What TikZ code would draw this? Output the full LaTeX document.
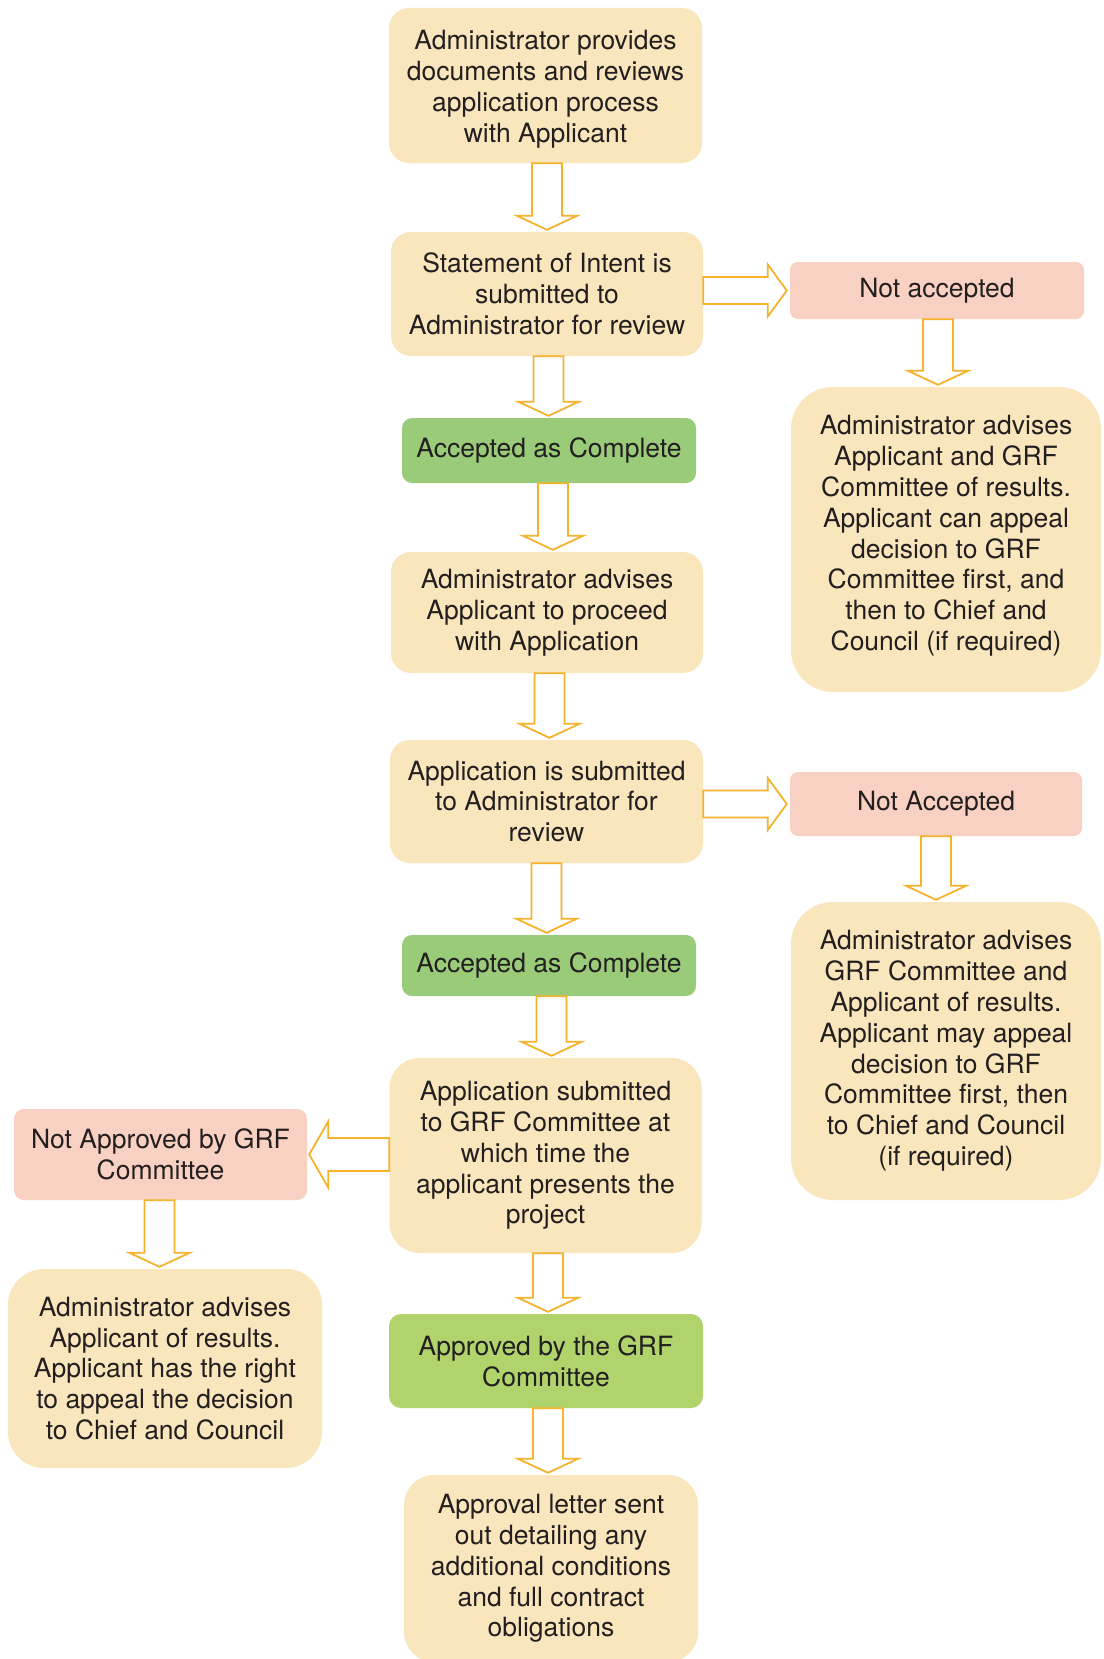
\documentclass[tikz,border=0pt]{standalone}
\usepackage{fontspec}
\setmainfont{TeX Gyre Heros}
\usetikzlibrary{calc}
\definecolor{beige}{HTML}{FAE6BC}
\definecolor{pinkbox}{HTML}{F8D1C2}
\definecolor{greenA}{HTML}{9ACB79}
\definecolor{greenB}{HTML}{B1D36B}
\definecolor{arrowc}{HTML}{F5B22D}
\definecolor{txt}{HTML}{231F20}
\tikzset{
  box/.style={rectangle, inner sep=0pt, align=center, text=txt,
    font=\fontsize{26.5}{30.8}\selectfont},
  beigebox/.style={box, fill=beige},
  pinkb/.style={box, fill=pinkbox},
  greena/.style={box, fill=greenA},
  greenb/.style={box, fill=greenB},
  blockarrow/.style={draw=arrowc, fill=white, line width=1.8pt, line join=miter},
}
% #1 source, #2 target, #3 x offset from source centre
\newcommand{\arrowdown}[3]{%
  \path[blockarrow] let \p1=(#1.south), \p2=(#2.north) in
    ({\x1+#3-15pt},{\y1}) -- ({\x1+#3+15pt},{\y1}) --
    ({\x1+#3+15pt},{\y2+16pt}) -- ({\x1+#3+30pt},{\y2+16pt}) --
    ({\x1+#3},{\y2+2pt}) -- ({\x1+#3-30pt},{\y2+16pt}) --
    ({\x1+#3-15pt},{\y2+16pt}) -- cycle;}
\newcommand{\arrowright}[2]{%
  \path[blockarrow] let \p1=(#1.east), \p2=(#2.west) in
    ({\x1},{\y2+13.5pt}) -- ({\x2-22pt},{\y2+13.5pt}) --
    ({\x2-22pt},{\y2+26pt}) -- ({\x2-3pt},{\y2}) --
    ({\x2-22pt},{\y2-26pt}) -- ({\x2-22pt},{\y2-13.5pt}) --
    ({\x1},{\y2-13.5pt}) -- cycle;}
\newcommand{\arrowleft}[2]{%
  \path[blockarrow] let \p1=(#1.west), \p2=(#2.east) in
    ({\x1},{\y2+16.5pt}) -- ({\x2+21pt},{\y2+16.5pt}) --
    ({\x2+21pt},{\y2+33pt}) -- ({\x2+2pt},{\y2}) --
    ({\x2+21pt},{\y2-33pt}) -- ({\x2+21pt},{\y2-16.5pt}) --
    ({\x1},{\y2-16.5pt}) -- cycle;}
\begin{document}
\begin{tikzpicture}[x=1pt,y=-1pt]
\useasboundingbox (0,0) rectangle (1103,1659);
\fill[white] (0,0) rectangle (1103,1659);

\node[beigebox, minimum width=313pt, minimum height=155pt, rounded corners=20pt] (A) at (545.5,85.5)
  {Administrator provides\\documents and reviews\\application process\\with Applicant\\[-32.5pt]};
\node[beigebox, minimum width=312pt, minimum height=124pt, rounded corners=20pt] (B) at (547,294)
  {Statement of Intent is\\submitted to\\Administrator for review};
\node[pinkb, minimum width=294pt, minimum height=57pt, rounded corners=8pt] (NA1) at (937,290.5)
  {Not accepted};
\node[beigebox, minimum width=310pt, minimum height=305pt, rounded corners=42pt] (R1) at (946,539.5)
  {Administrator advises\\Applicant and GRF\\Committee of results.\\Applicant can appeal\\decision to GRF\\Committee first, and\\then to Chief and\\Council (if required)\\[-18pt]};
\node[greena, minimum width=294pt, minimum height=65pt, rounded corners=10pt] (Acc1) at (549,450.5)
  {Accepted as Complete};
\node[beigebox, minimum width=312pt, minimum height=121pt, rounded corners=20pt] (C) at (547,612.5)
  {Administrator advises\\Applicant to proceed\\with Application};
\node[beigebox, minimum width=313pt, minimum height=123pt, rounded corners=20pt] (D) at (546.5,801.5)
  {Application is submitted\\to Administrator for\\review};
\node[pinkb, minimum width=292pt, minimum height=64pt, rounded corners=8pt] (NA2) at (936,804)
  {Not Accepted};
\node[beigebox, minimum width=310pt, minimum height=298pt, rounded corners=42pt] (R2) at (946,1051)
  {Administrator advises\\GRF Committee and\\Applicant of results.\\Applicant may appeal\\decision to GRF\\Committee first, then\\to Chief and Council\\(if required)};
\node[greena, minimum width=294pt, minimum height=61pt, rounded corners=10pt] (Acc2) at (549,965.5)
  {Accepted as Complete};
\node[beigebox, minimum width=312pt, minimum height=195pt, rounded corners=30pt] (E) at (545.5,1155.5)
  {Application submitted\\to GRF Committee at\\which time the\\applicant presents the\\project};
\node[pinkb, minimum width=293pt, minimum height=91pt, rounded corners=10pt] (NG) at (160.5,1154.5)
  {Not Approved by GRF\\Committee};
\node[beigebox, minimum width=314pt, minimum height=199pt, rounded corners=36pt] (L) at (165,1368.5)
  {Administrator advises\\Applicant of results.\\Applicant has the right\\to appeal the decision\\to Chief and Council};
\node[greenb, minimum width=314pt, minimum height=94pt, rounded corners=12pt] (AP) at (546,1361)
  {Approved by the GRF\\Committee};
\node[beigebox, minimum width=294pt, minimum height=187pt, rounded corners=30pt] (F) at (551,1568.5)
  {Approval letter sent\\out detailing any\\additional conditions\\and full contract\\obligations};

\arrowdown{A}{B}{1.5pt}
\arrowdown{B}{Acc1}{1.5pt}
\arrowdown{Acc1}{C}{4pt}
\arrowdown{C}{D}{2.5pt}
\arrowdown{D}{Acc2}{0pt}
\arrowdown{Acc2}{E}{2.5pt}
\arrowdown{E}{AP}{2.5pt}
\arrowdown{AP}{F}{2pt}
\arrowdown{NA1}{R1}{1pt}
\arrowdown{NA2}{R2}{0pt}
\arrowdown{NG}{L}{-1pt}
\arrowright{B}{NA1}
\arrowright{D}{NA2}
\arrowleft{E}{NG}
\end{tikzpicture}
\end{document}
